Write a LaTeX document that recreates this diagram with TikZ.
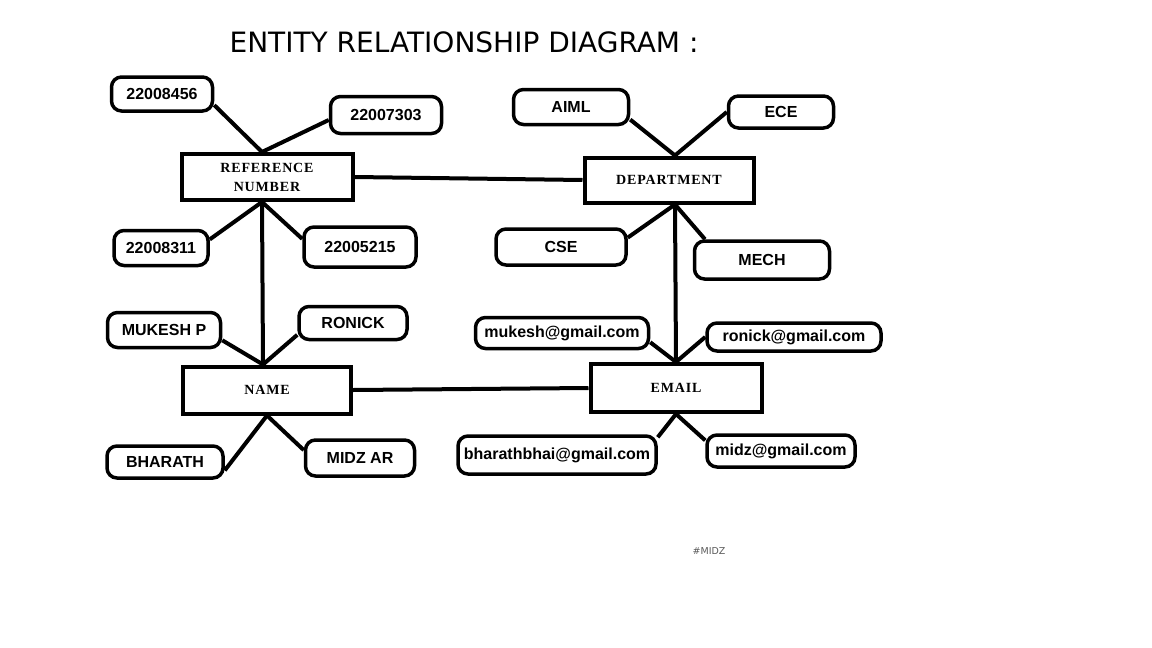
\documentclass[tikz,border=0pt]{standalone}
\usepackage{fontspec}
\setmainfont{Liberation Serif}
\newfontfamily\attrfont{Liberation Sans}
\newfontfamily\titlefont{DejaVu Sans}
\newfontfamily\entfont[LetterSpace=6]{Liberation Serif}
\usetikzlibrary{positioning}

\begin{document}
\begin{tikzpicture}[x=1pt,y=-1pt,
    entity/.style={draw,line width=4pt,inner sep=0pt,align=center,
      font=\entfont\bfseries\fontsize{14}{19}\selectfont},
    attr/.style={draw,line width=3.5pt,rounded corners=10pt,inner sep=0pt,
      font=\attrfont\bfseries\fontsize{16}{18}\selectfont},
    link/.style={line width=4pt}]
    \useasboundingbox (0,0) rectangle (1152,648);

    \node[font=\titlefont\fontsize{28}{32}\selectfont,inner sep=0pt] (title) at (464,42)
        {ENTITY RELATIONSHIP DIAGRAM :};

    \node[entity,minimum width=171,minimum height=46] (ref) at (267,177) {REFERENCE\\NUMBER};
    \node[entity,minimum width=169,minimum height=45] (dept) at (669,180) {DEPARTMENT};
    \node[entity,minimum width=168,minimum height=47] (name) at (267,390) {NAME};
    \node[entity,minimum width=171,minimum height=48] (email) at (676,388) {EMAIL};

    \coordinate (refN) at ([xshift=-5pt]ref.north);
    \coordinate (refS) at ([xshift=-5pt]ref.south);
    \coordinate (deptN) at ([xshift=6pt]dept.north);
    \coordinate (deptS) at ([xshift=6pt]dept.south);
    \coordinate (nameN) at ([xshift=-4pt]name.north);

    \node[attr,minimum width=101,minimum height=34] (a1) at (162,94) {22008456};
    \node[attr,minimum width=111,minimum height=37] (a2) at (386,115) {22007303};
    \node[attr,minimum width=94,minimum height=35] (a3) at (161,248) {22008311};
    \node[attr,minimum width=112,minimum height=40] (a4) at (360,247) {22005215};

    \node[attr,minimum width=115,minimum height=35] (b1) at (571,107) {AIML};
    \node[attr,minimum width=105,minimum height=32] (b2) at (781,112) {ECE};
    \node[attr,minimum width=130,minimum height=36] (b3) at (561,247) {CSE};
    \node[attr,minimum width=135,minimum height=38] (b4) at (762,260) {MECH};

    \node[attr,minimum width=113,minimum height=35] (c1) at (164,330) {MUKESH P};
    \node[attr,minimum width=108,minimum height=33] (c2) at (353,323) {RONICK};
    \node[attr,minimum width=116,minimum height=32] (c3) at (165,462) {BHARATH};
    \node[attr,minimum width=109,minimum height=36] (c4) at (360,458) {MIDZ AR};

    \node[attr,minimum width=173,minimum height=31] (d1) at (562,333) {mukesh@gmail.com};
    \node[attr,minimum width=174,minimum height=28] (d2) at (794,337) {ronick@gmail.com};
    \node[attr,minimum width=198,minimum height=38] (d3) at (557,455) {bharathbhai@gmail.com};
    \node[attr,minimum width=148,minimum height=32] (d4) at (781,451) {midz@gmail.com};

    \node[font=\titlefont\fontsize{9.5}{11}\selectfont,text=black!65] (tag) at (709,551) {\#MIDZ};

    \draw[link] (a1.-12) -- (refN);
    \draw[link] (a2.185) -- (refN);
    \draw[link] (refS) -- (a3.10);
    \draw[link] (refS) -- (a4.172);
    \draw[link] (refS) -- (nameN);
    \draw[link] (ref.east) -- (dept.west);

    \draw[link] (b1.-12) -- (deptN);
    \draw[link] (b2.west) -- (deptN);
    \draw[link] (deptS) -- (b3.8);
    \draw[link] (deptS) -- (b4.160);
    \draw[link] (deptS) -- (email.north);

    \draw[link] (c1.-10) -- (nameN);
    \draw[link] (c2.192) -- (nameN);
    \draw[link] (name.south) -- (c3.-8);
    \draw[link] (name.south) -- (c4.172);
    \draw[link] (name.east) -- (email.west);

    \draw[link] (d1.-6) -- (email.north);
    \draw[link] (d2.west) -- (email.north);
    \draw[link] (email.south) -- (d3.10);
    \draw[link] (email.south) -- (d4.172);
\end{tikzpicture}
\end{document}
